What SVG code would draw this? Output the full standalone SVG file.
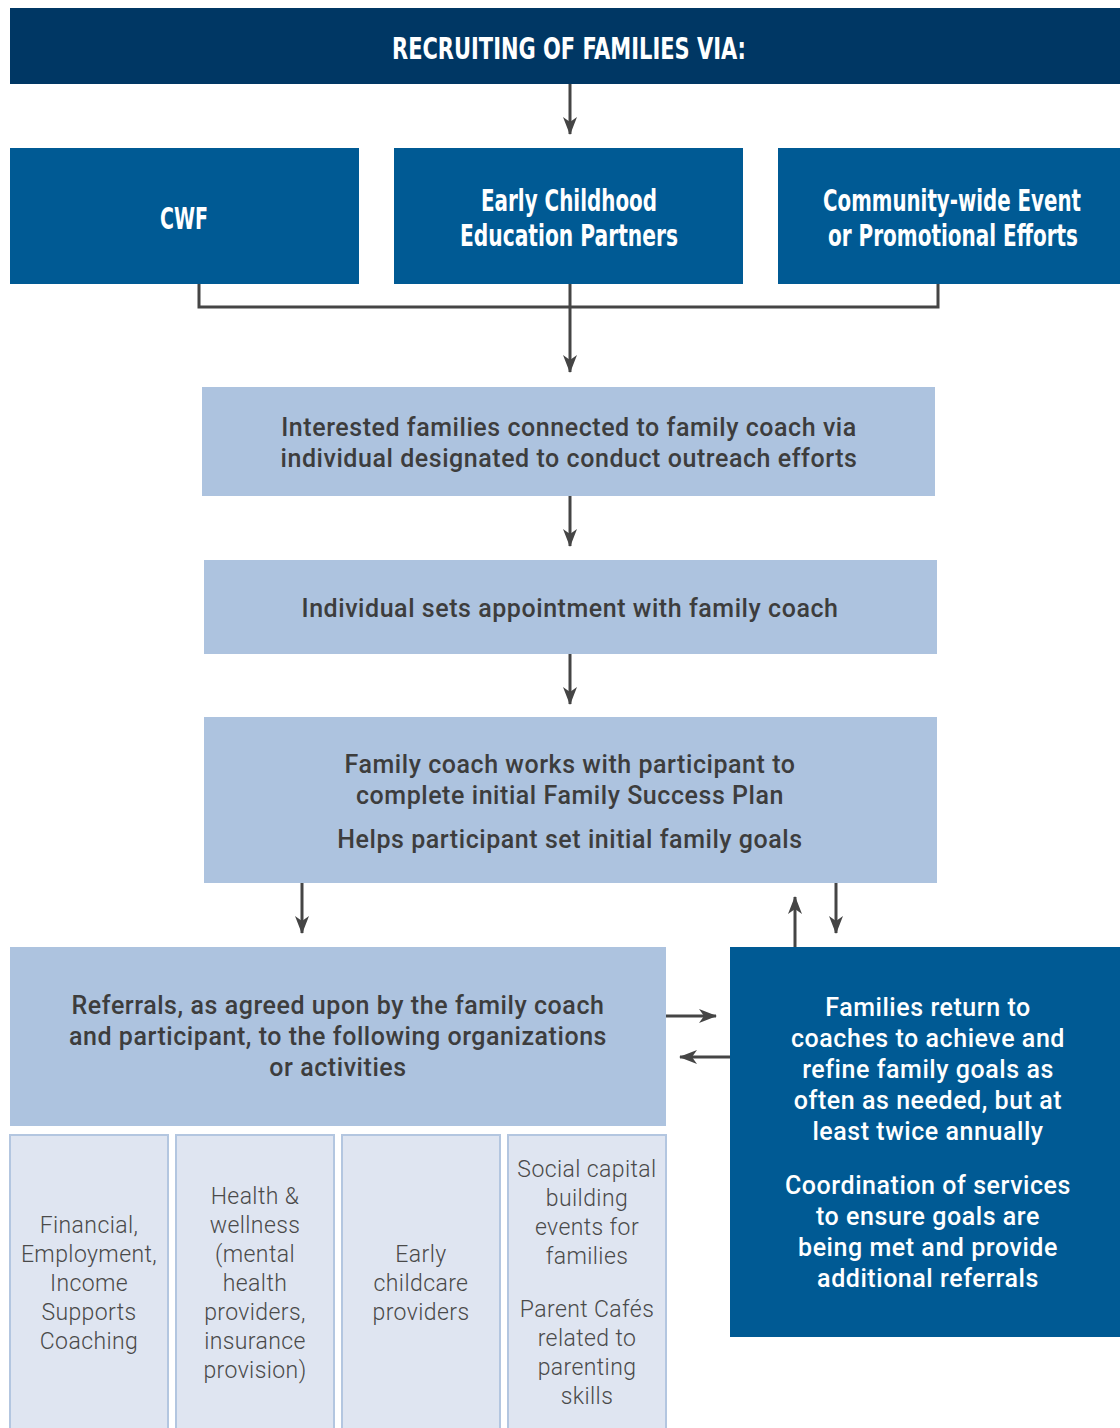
<svg xmlns="http://www.w3.org/2000/svg" width="1120" height="1428" viewBox="0 0 1120 1428">
<defs>
<marker id="ah" markerWidth="18" markerHeight="14" refX="17" refY="7" orient="auto" markerUnits="userSpaceOnUse" viewBox="0 0 18 14">
<path d="M0,0 L18,7 L0,14 L5,7 Z" fill="#454545"/>
</marker>
<style>
.navy{fill:#003764}
.blue{fill:#005a94}
.light{fill:#adc3df}
.pale{fill:#dfe5f1;stroke:#b3c6e0;stroke-width:2}
.hd{font-family:"DejaVu Sans",sans-serif;font-weight:bold;font-stretch:condensed;fill:#fff;text-anchor:middle;font-size:30px}
.bt{font-family:Roboto,"Liberation Sans",sans-serif;font-weight:500;fill:#3d3d3d;text-anchor:middle;font-size:25px;letter-spacing:0.55px}
.wt{font-family:Roboto,"Liberation Sans",sans-serif;font-weight:500;fill:#fff;text-anchor:middle;font-size:25px;letter-spacing:0.55px}
.lt{font-family:Roboto,"Liberation Sans",sans-serif;font-weight:300;fill:#4a4a4a;text-anchor:middle;font-size:23px;letter-spacing:0.4px}
.cn{fill:none;stroke:#454545;stroke-width:3}
</style>
</defs>
<rect width="1120" height="1428" fill="#fff"/>
<g id="connectors">
<line class="cn" x1="570" y1="84" x2="570" y2="134" marker-end="url(#ah)"/>
<polyline class="cn" points="199,284 199,307 938,307 938,284"/>
<line class="cn" x1="570" y1="284" x2="570" y2="372" marker-end="url(#ah)"/>
<line class="cn" x1="570" y1="496" x2="570" y2="546" marker-end="url(#ah)"/>
<line class="cn" x1="570" y1="654" x2="570" y2="704" marker-end="url(#ah)"/>
<line class="cn" x1="302" y1="883" x2="302" y2="933" marker-end="url(#ah)"/>
<line class="cn" x1="795" y1="947" x2="795" y2="897" marker-end="url(#ah)"/>
<line class="cn" x1="836" y1="883" x2="836" y2="933" marker-end="url(#ah)"/>
<line class="cn" x1="666" y1="1016" x2="716" y2="1016" marker-end="url(#ah)"/>
<line class="cn" x1="730" y1="1057" x2="680" y2="1057" marker-end="url(#ah)"/>
</g>
<g id="recruiting">
<rect class="navy" x="10" y="8" width="1110" height="76"/>
<text class="hd" x="569" y="59" textLength="354" lengthAdjust="spacingAndGlyphs">RECRUITING OF FAMILIES VIA:</text>
</g>
<g id="cwf">
<rect class="blue" x="10" y="148" width="349" height="136"/>
<text class="hd" x="184" y="229" textLength="48" lengthAdjust="spacingAndGlyphs">CWF</text>
</g>
<g id="ece">
<rect class="blue" x="394" y="148" width="349" height="136"/>
<text class="hd" x="569" y="211" textLength="176" lengthAdjust="spacingAndGlyphs">Early Childhood</text>
<text class="hd" x="569" y="246" textLength="218" lengthAdjust="spacingAndGlyphs">Education Partners</text>
</g>
<g id="community">
<rect class="blue" x="778" y="148" width="342" height="136"/>
<text class="hd" x="952" y="211" textLength="258" lengthAdjust="spacingAndGlyphs">Community-wide Event</text>
<text class="hd" x="953" y="246" textLength="250" lengthAdjust="spacingAndGlyphs">or Promotional Efforts</text>
</g>
<g id="interested">
<rect class="light" x="202" y="387" width="733" height="109"/>
<text class="bt" x="569" y="436">Interested families connected to family coach via</text>
<text class="bt" x="569" y="467">individual designated to conduct outreach efforts</text>
</g>
<g id="appointment">
<rect class="light" x="204" y="560" width="733" height="94"/>
<text class="bt" x="570" y="617">Individual sets appointment with family coach</text>
</g>
<g id="plan">
<rect class="light" x="204" y="717" width="733" height="166"/>
<text class="bt" x="570" y="773">Family coach works with participant to</text>
<text class="bt" x="570" y="804">complete initial Family Success Plan</text>
<text class="bt" x="570" y="848">Helps participant set initial family goals</text>
</g>
<g id="referrals">
<rect class="light" x="10" y="947" width="656" height="179"/>
<text class="bt" x="338" y="1014">Referrals, as agreed upon by the family coach</text>
<text class="bt" x="338" y="1045">and participant, to the following organizations</text>
<text class="bt" x="338" y="1076">or activities</text>
</g>
<g id="return">
<rect class="blue" x="730" y="947" width="390" height="390"/>
<text class="wt" x="928" y="1016">Families return to</text>
<text class="wt" x="928" y="1047">coaches to achieve and</text>
<text class="wt" x="928" y="1078">refine family goals as</text>
<text class="wt" x="928" y="1109">often as needed, but at</text>
<text class="wt" x="928" y="1140">least twice annually</text>
<text class="wt" x="928" y="1194">Coordination of services</text>
<text class="wt" x="928" y="1225">to ensure goals are</text>
<text class="wt" x="928" y="1256">being met and provide</text>
<text class="wt" x="928" y="1287">additional referrals</text>
</g>
<g id="financial">
<rect class="pale" x="10" y="1135" width="158" height="300"/>
<text class="lt" x="89" y="1233">Financial,</text>
<text class="lt" x="89" y="1262">Employment,</text>
<text class="lt" x="89" y="1291">Income</text>
<text class="lt" x="89" y="1320">Supports</text>
<text class="lt" x="89" y="1349">Coaching</text>
</g>
<g id="health">
<rect class="pale" x="176" y="1135" width="158" height="300"/>
<text class="lt" x="255" y="1204">Health &amp;</text>
<text class="lt" x="255" y="1233">wellness</text>
<text class="lt" x="255" y="1262">(mental</text>
<text class="lt" x="255" y="1291">health</text>
<text class="lt" x="255" y="1320">providers,</text>
<text class="lt" x="255" y="1349">insurance</text>
<text class="lt" x="255" y="1378">provision)</text>
</g>
<g id="childcare">
<rect class="pale" x="342" y="1135" width="158" height="300"/>
<text class="lt" x="421" y="1262">Early</text>
<text class="lt" x="421" y="1291">childcare</text>
<text class="lt" x="421" y="1320">providers</text>
</g>
<g id="social">
<rect class="pale" x="508" y="1135" width="158" height="300"/>
<text class="lt" x="587" y="1177">Social capital</text>
<text class="lt" x="587" y="1206">building</text>
<text class="lt" x="587" y="1235">events for</text>
<text class="lt" x="587" y="1264">families</text>
<text class="lt" x="587" y="1317">Parent Cafés</text>
<text class="lt" x="587" y="1346">related to</text>
<text class="lt" x="587" y="1375">parenting</text>
<text class="lt" x="587" y="1404">skills</text>
</g>
</svg>
